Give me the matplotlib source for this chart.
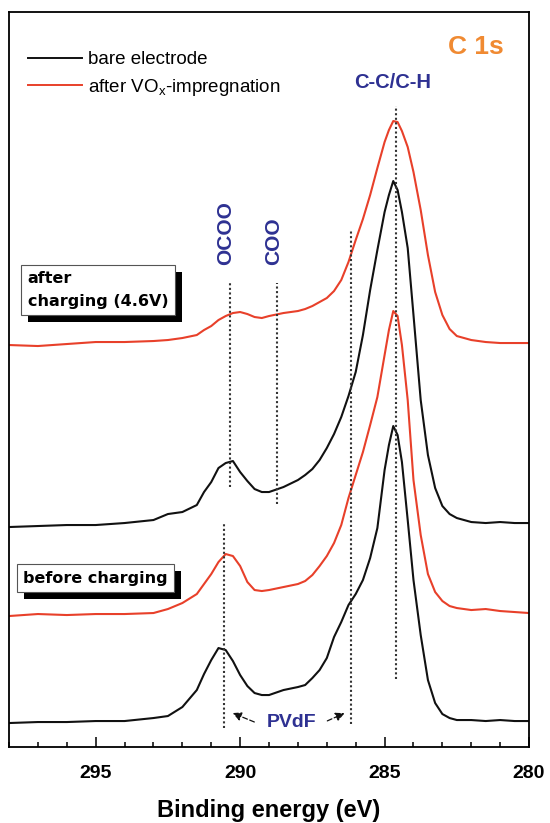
"""
XPS C 1s spectra of the electrode, before and after charging.
"""
import matplotlib
matplotlib.use("Agg")
import matplotlib.pyplot as plt
import matplotlib.patheffects as pe
from matplotlib.lines import Line2D
from matplotlib.ticker import MultipleLocator

plt.rcParams['font.family'] = ['Liberation Sans', 'DejaVu Sans']

# binding energy grid (eV)
energy = [298.0, 297.0, 296.0, 295.0, 294.0, 293.0, 292.5, 292.0, 291.5, 291.25,
          291.0, 290.75, 290.5, 290.25, 290.0, 289.75, 289.5, 289.25, 289.0, 288.5,
          288.0, 287.75, 287.5, 287.25, 287.0, 286.75, 286.5, 286.25, 286.0, 285.75,
          285.5, 285.25, 285.0, 284.85, 284.7, 284.55, 284.4, 284.2, 284.0, 283.75,
          283.5, 283.25, 283.0, 282.75, 282.5, 282.0, 281.5, 281.0, 280.5, 280.0]

# intensities (a.u., stacked)
after_chg_vox = [402, 401, 403, 405, 405, 406, 407, 409, 412, 417,
                 421, 427, 431, 434, 435, 433, 430, 429, 431, 434,
                 436, 438, 441, 445, 449, 456, 467, 485, 507, 528,
                 552, 579, 605, 617, 626, 625, 616, 600, 575, 537,
                 492, 455, 432, 418, 411, 407, 405, 404, 404, 404]
after_chg_bare = [220, 221, 222, 222, 224, 227, 233, 235, 242, 255,
                  265, 279, 284, 286, 275, 266, 258, 255, 255, 260,
                  267, 272, 278, 287, 299, 313, 330, 351, 375, 412,
                  457, 497, 535, 552, 566, 557, 535, 499, 432, 347,
                  292, 259, 241, 233, 229, 225, 224, 225, 224, 224]
before_chg_vox = [131, 133, 132, 133, 133, 134, 138, 144, 153, 163,
                  173, 185, 193, 191, 181, 165, 157, 156, 157, 160,
                  163, 166, 172, 181, 191, 204, 222, 249, 272, 295,
                  322, 350, 392, 417, 436, 431, 402, 347, 267, 212,
                  173, 155, 146, 141, 139, 137, 138, 136, 135, 134]
before_chg_bare = [24, 25, 25, 26, 26, 29, 31, 40, 57, 73,
                   87, 99, 97, 86, 72, 61, 54, 52, 52, 57,
                   60, 62, 69, 77, 89, 110, 125, 142, 153, 167,
                   189, 219, 277, 302, 321, 312, 285, 227, 167, 112,
                   67, 44, 33, 29, 27, 27, 26, 27, 26, 26]

# dotted reference lines: energy, lower and upper intensity
ref_energy = [284.62, 290.35, 288.74, 286.17, 290.56]
ref_low = [68, 260, 243, 23, 19]
ref_high = [641, 464, 464, 516, 224]

BLACK = '#111111'
RED = '#E8402A'
BLUE = '#2E3192'
ORANGE = '#F08A32'

fig = plt.figure(figsize=(5.5, 8.23), dpi=100)
ax = fig.add_axes([0.0164, 0.0923, 0.9455, 0.8931])

ax.plot(energy, after_chg_vox, color=RED, lw=1.5)
ax.plot(energy, after_chg_bare, color=BLACK, lw=1.5)
ax.plot(energy, before_chg_vox, color=RED, lw=1.5)
ax.plot(energy, before_chg_bare, color=BLACK, lw=1.5)

ax.vlines(ref_energy, ref_low, ref_high, colors='#333333',
          linestyles=(0, (1, 1.2)), lw=1.5)

ax.set_xlim(298, 280)
ax.set_ylim(0, 735)
ax.xaxis.set_major_locator(MultipleLocator(5))
ax.xaxis.set_minor_locator(MultipleLocator(1))
ax.tick_params(axis='x', which='both', direction='in', top=False, width=1.1, pad=13)
ax.tick_params(axis='x', which='major', length=7)
ax.tick_params(axis='x', which='minor', length=3.6)
ax.tick_params(axis='y', left=False, labelleft=False)
for lab in ax.get_xticklabels():
    lab.set_fontweight('bold')
    lab.set_fontsize(14)
for sp in ax.spines.values():
    sp.set_linewidth(1.3)

ax.set_xlabel('Binding energy (eV)', fontsize=17, fontweight='bold', labelpad=12)

# legend
handles = [Line2D([], [], color=BLACK, lw=1.4),
           Line2D([], [], color=RED, lw=1.4)]
ax.legend(handles, ['bare electrode', r'after VO$_\mathregular{x}$-impregnation'],
          loc='upper left', bbox_to_anchor=(0.022, 0.957), frameon=False,
          fontsize=13.5, handlelength=2.9, handletextpad=0.32, labelspacing=0.45,
          borderaxespad=0)

# peak labels
ax.text(281.84, 700, 'C 1s', color=ORANGE, fontsize=19, fontweight='bold',
        ha='center', va='center')
ax.text(284.71, 665, 'C-C/C-H', color=BLUE, fontsize=14.5, fontweight='bold',
        ha='center', va='center')
ax.text(290.49, 482, 'OCOO', color=BLUE, fontsize=15, fontweight='bold',
        rotation=90, ha='center', va='bottom')
ax.text(288.83, 482, 'COO', color=BLUE, fontsize=15, fontweight='bold',
        rotation=90, ha='center', va='bottom')
ax.text(288.21, 25, 'PVdF', color=BLUE, fontsize=14, fontweight='bold',
        ha='center', va='center')
arrow = dict(arrowstyle='-|>', color=BLACK, lw=0.9, linestyle=(0, (4, 2)),
             mutation_scale=13)
ax.annotate('', xy=(290.35, 35), xytext=(289.42, 24), arrowprops=arrow)
ax.annotate('', xy=(286.3, 35), xytext=(287.07, 25), arrowprops=arrow)

# boxed captions with drop shadow
shadow = [pe.SimplePatchShadow(offset=(5, -5), shadow_rgbFace='black', alpha=1),
          pe.Normal()]
for txt, x, y in [('after\ncharging (4.6V)', 297.35, 457),
                  ('before charging', 297.5, 169)]:
    t = ax.text(x, y, txt, fontsize=11.5, fontweight='bold',
                family='DejaVu Sans', ha='left', va='center', linespacing=1.6,
                bbox=dict(boxstyle='square,pad=0.4', fc='white', ec='#555555', lw=0.8))
    t.get_bbox_patch().set_path_effects(shadow)

fig.savefig('out.png', dpi=100)
plt.close(fig)
